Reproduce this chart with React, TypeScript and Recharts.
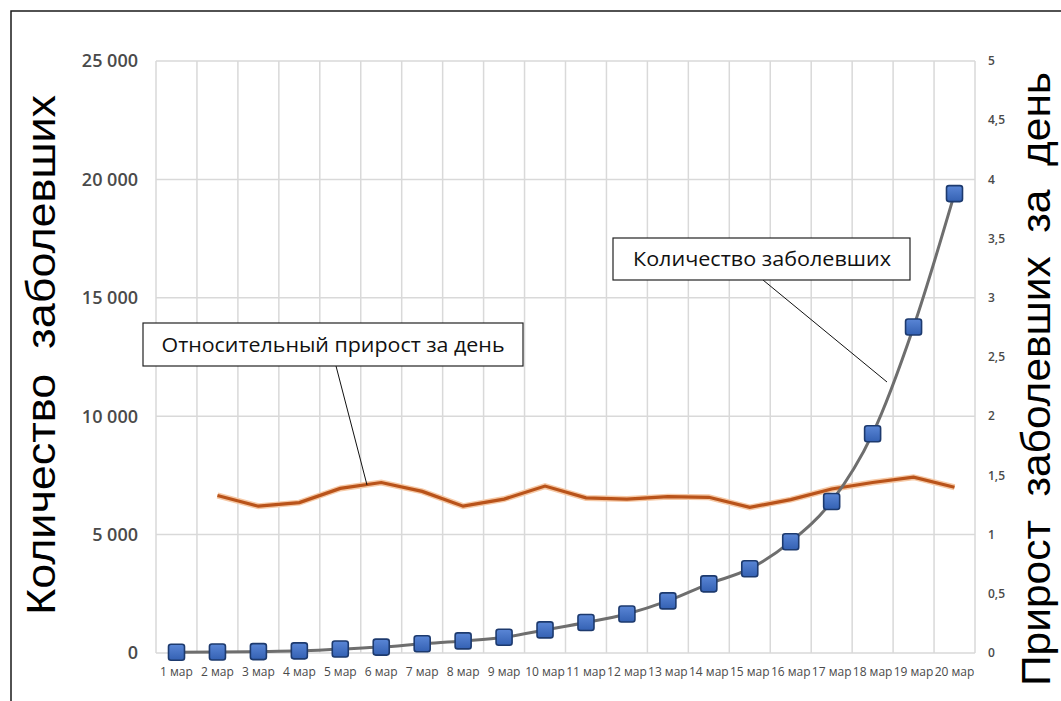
import { CartesianGrid, Line, LineChart, XAxis, YAxis } from 'recharts';

// Cases vs. day-over-day growth, March. Left axis = cumulative cases,
// right axis = relative growth factor. Annotations and axis titles are
// drawn in a plain SVG overlay on top of the chart.

const days = [
  '1 мар', '2 мар', '3 мар', '4 мар', '5 мар', '6 мар', '7 мар', '8 мар', '9 мар', '10 мар',
  '11 мар', '12 мар', '13 мар', '14 мар', '15 мар', '16 мар', '17 мар', '18 мар', '19 мар', '20 мар',
];

const cases = [
  30, 40, 60, 90, 170, 250, 390, 510, 665, 975,
  1285, 1650, 2200, 2920, 3560, 4700, 6400, 9260, 13770, 19400,
];

const growth = [
  null, 1.33, 1.24, 1.27, 1.39, 1.44, 1.365, 1.24, 1.3, 1.41,
  1.31, 1.3, 1.32, 1.315, 1.23, 1.295, 1.385, 1.44, 1.485, 1.4,
];

const casesTicks = [0, 5000, 10000, 15000, 20000, 25000];
const growthTicks = [0, 0.5, 1, 1.5, 2, 2.5, 3, 3.5, 4, 4.5, 5];

const data = days.map((day, i) => ({ day, cases: cases[i], growth: growth[i] }));

const W = 1061;
const H = 701;
const TICK_COLOR = '#4a4a4a';

const fmtCases = (v: number) => (v === 0 ? '0' : `${Math.floor(v / 1000)} 000`);
const fmtGrowth = (v: number) => String(v).replace('.', ',');

function Square(props: any) {
  const { cx, cy, index } = props;
  if (cx == null || cy == null) return <g key={`sq-${index}`} />;
  return (
    <rect
      key={`sq-${index}`}
      x={cx - 8}
      y={cy - 8}
      width={16}
      height={16}
      rx={2.5}
      fill='url(#sqFill)'
      stroke='#1d3a6e'
      strokeWidth={1.6}
    />
  );
}

export default function App() {
  return (
    <div
      style={{
        position: 'absolute',
        left: 0,
        top: 0,
        width: W,
        height: H,
        overflow: 'hidden',
        background: '#fff',
      }}
    >
      <LineChart
        width={W}
        height={H}
        data={data}
        margin={{ top: 61, right: 36, bottom: 18, left: 96 }}
      >
        <defs>
          <linearGradient id='sqFill' x1='0' y1='0' x2='0' y2='1'>
            <stop offset='0%' stopColor='#5a86d6' />
            <stop offset='100%' stopColor='#3461b3' />
          </linearGradient>
        </defs>
        <CartesianGrid
          yAxisId='left'
          stroke='#d9d9d9'
          strokeWidth={1.5}
          verticalCoordinatesGenerator={({ offset }: any) =>
            Array.from({ length: days.length + 1 }, (_, i) => offset.left + (i * offset.width) / days.length)
          }
        />
        <XAxis
          dataKey='day'
          interval={0}
          padding={{ left: 20.5, right: 20.5 }}
          axisLine={false}
          tickLine={false}
          tickMargin={8}
          height={30}
          tick={{ fontSize: 12, fill: TICK_COLOR, fontFamily: 'Open Sans' }}
        />
        <YAxis
          yAxisId='left'
          domain={[0, 25000]}
          ticks={casesTicks}
          tickFormatter={fmtCases}
          axisLine={false}
          tickLine={false}
          tickMargin={12}
          width={60}
          tick={{ fontSize: 18, fill: TICK_COLOR, fontFamily: 'Open Sans', fontWeight: 600 }}
        />
        <YAxis
          yAxisId='right'
          orientation='right'
          domain={[0, 5]}
          ticks={growthTicks}
          tickFormatter={fmtGrowth}
          axisLine={false}
          tickLine={false}
          tickMargin={7}
          width={50}
          tick={{ fontSize: 12, fill: TICK_COLOR, fontFamily: 'Open Sans', fontWeight: 600 }}
        />
        <Line
          yAxisId='right'
          dataKey='growth'
          type='linear'
          stroke='#f6c9a6'
          strokeWidth={6}
          dot={false}
          activeDot={false}
          isAnimationActive={false}
        />
        <Line
          yAxisId='right'
          dataKey='growth'
          type='linear'
          stroke='#b9531a'
          strokeWidth={3.2}
          dot={false}
          activeDot={false}
          isAnimationActive={false}
        />
        <Line
          yAxisId='left'
          dataKey='cases'
          type='monotone'
          stroke='#6e6e6e'
          strokeWidth={3}
          dot={Square}
          activeDot={false}
          isAnimationActive={false}
        />
      </LineChart>

      <svg
        width={W}
        height={H}
        style={{ position: 'absolute', left: 0, top: 0, pointerEvents: 'none' }}
      >
        <rect x={11} y={11} width={W} height={H} fill='none' stroke='#1a1a1a' strokeWidth={1.5} />

        <text
          transform='translate(55, 355) rotate(-90)'
          textAnchor='middle'
          fontFamily='Liberation Sans'
          fontSize={40}
          fill='#000'
          textLength={520}
          lengthAdjust='spacingAndGlyphs'
          style={{ whiteSpace: 'pre' }}
        >
          Количество  заболевших
        </text>
        <text
          transform='translate(1050, 379) rotate(-90)'
          textAnchor='middle'
          fontFamily='Liberation Sans'
          fontSize={40}
          fill='#000'
          textLength={614}
          lengthAdjust='spacingAndGlyphs'
          style={{ whiteSpace: 'pre' }}
        >
          Прирост  заболевших  за  день
        </text>

        <line x1={336} y1={366} x2={367} y2={485} stroke='#111' strokeWidth={1} />
        <rect x={143} y={323} width={380} height={43} fill='#fff' stroke='#222' strokeWidth={1.2} />
        <text
          x={333}
          y={352}
          textAnchor='middle'
          fontFamily='Open Sans'
          fontSize={20}
          fill='#111'
          textLength={343}
          lengthAdjust='spacingAndGlyphs'
        >
          Относительный прирост за день
        </text>

        <line x1={763} y1={280} x2={887} y2={382} stroke='#111' strokeWidth={1} />
        <rect x={613} y={238} width={297} height={42} fill='#fff' stroke='#222' strokeWidth={1.2} />
        <text
          x={762}
          y={266}
          textAnchor='middle'
          fontFamily='Open Sans'
          fontSize={20}
          fill='#111'
          textLength={258}
          lengthAdjust='spacingAndGlyphs'
        >
          Количество заболевших
        </text>
      </svg>
    </div>
  );
}
